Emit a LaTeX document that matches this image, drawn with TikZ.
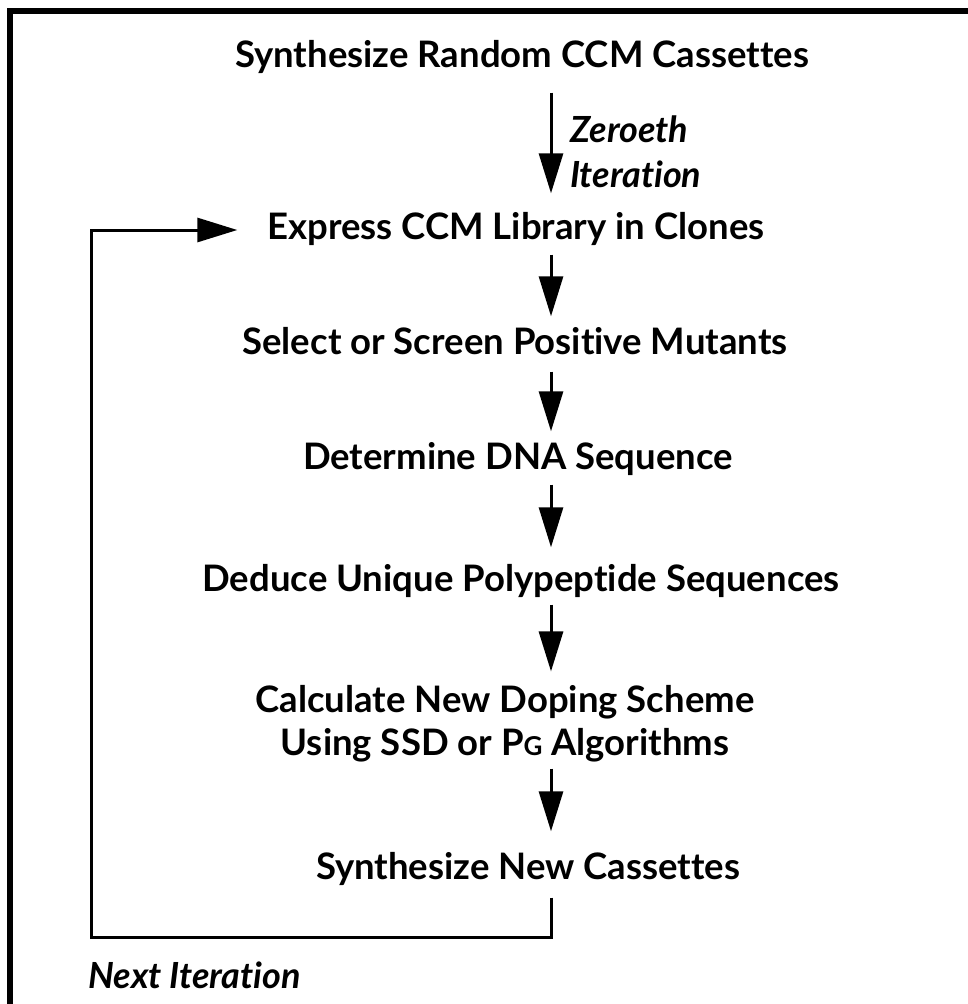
\documentclass[tikz,border=0pt]{standalone}
\usepackage{fontspec}
\setmainfont{Lato}[Ligatures=CommonOff]
\usetikzlibrary{arrows.meta}
\tikzset{
  lbl/.style={font=\fontsize{36.5}{46}\selectfont\bfseries, inner sep=0pt, text height=26pt, text depth=7pt},
  ilbl/.style={font=\fontsize{36}{45}\selectfont\bfseries\itshape, inner sep=0pt, align=left},
  arr/.style={line width=3pt, -{Triangle[length=40pt,width=24pt]}},
  frame/.style={line width=6pt}
}
\begin{document}
\begin{tikzpicture}[x=1pt,y=1pt]
\useasboundingbox (0,0) rectangle (968,-1004);
\draw[frame] (10,-1004) -- (10,-11) -- (968,-11);
\coordinate (ax) at (551,0);
\coordinate (bl) at (91,-937);
\node[lbl] (t1) at (522,-58) {Synthesize Random CCM Cassettes};
\node[ilbl, anchor=west] (z) at (570,-152) {Zeroeth\\Iteration};
\node[lbl] (t2) at (516,-230) {Express CCM Library in Clones};
\node[lbl] (t3) at (515,-345) {Select or Screen Positive Mutants};
\node[lbl] (t4) at (518,-460) {Determine DNA Sequence};
\node[lbl] (t5) at (521,-582) {Deduce Unique Polypeptide Sequences};
\node[lbl, align=center, text height=, text depth=, font=\fontsize{36.5}{43}\selectfont\bfseries] (t6) at (505,-724) {Calculate New Doping Scheme\\Using SSD or P{\fontsize{26}{26}\selectfont G} Algorithms};
\node[lbl] (t7) at (528,-870) {Synthesize New Cassettes};
\node[ilbl, anchor=west] (n) at (88,-975) {Next Iteration};
\draw[arr, shorten <=18pt, shorten >=20pt] (t1.south -| ax) -- (t2.north -| ax);
\draw[arr, shorten <=8pt, shorten >=12pt] (t2.south -| ax) -- (t3.north -| ax);
\draw[arr, shorten <=10pt, shorten >=12pt] (t3.south -| ax) -- (t4.north -| ax);
\draw[arr, shorten <=8pt, shorten >=18pt] (t4.south -| ax) -- (t5.north -| ax);
\draw[arr, shorten <=6pt, shorten >=14pt] (t5.south -| ax) -- (t6.north -| ax);
\draw[arr, shorten <=6pt, shorten >=22pt] (t6.south -| ax) -- (t7.north -| ax);
\draw[arr, line join=miter, shorten <=11pt, shorten >=30pt] (t7.south -| ax) -- (ax |- bl) -- (bl) -- (bl |- t2.west) -- (t2.west);
\end{tikzpicture}
\end{document}
